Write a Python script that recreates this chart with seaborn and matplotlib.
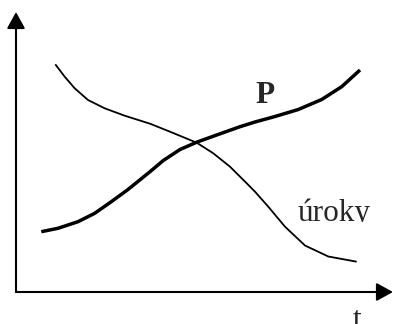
import numpy as np
import pandas as pd
import matplotlib
matplotlib.use("Agg")
import matplotlib.pyplot as plt
import seaborn as sns
from matplotlib.transforms import Bbox, TransformedBbox

# curve values (t along the x axis, level up the y axis)
p_t = [25.3, 42, 62, 78.7, 95.3, 112, 134, 147.3, 164, 180.7, 200.7, 224, 239, 259, 282.3, 305.7, 325.7, 344]
p_val = [60.3, 63.7, 70.3, 78.7, 90.3, 102.5, 120.3, 131.5, 142.5, 149.8, 157, 165.3, 170, 175.5, 182.5, 192.5, 205.3, 222]

urok_t = [39.3, 48.7, 58.7, 72, 88.7, 108.7, 134, 154, 180.7, 197.3, 214, 230.7, 239, 252.3, 269, 289, 312.3, 340.7]
urok_val = [227.7, 215.3, 203.7, 192, 183.7, 176.3, 168.3, 160.3, 149.3, 138.7, 125.3, 108.7, 100.3, 85.3, 65.3, 46.5, 35.5, 30.3]

LABEL_P = "P"
LABEL_UROK = "úroky"
LABEL_T = "t"

df_p = pd.DataFrame({"t": p_t, "val": p_val})
df_u = pd.DataFrame({"t": urok_t, "val": urok_val})

sns.set_style("white")
plt.rcParams["font.family"] = ["Liberation Serif", "DejaVu Serif"]

fig = plt.figure(figsize=(3.93, 3.24), dpi=100)
ax = fig.add_axes([16 / 393, 32 / 324, 377 / 393, 280 / 324])
ax.set_xlim(0, 377)
ax.set_ylim(0, 280)

sns.lineplot(data=df_p, x="t", y="val", ax=ax, color="black", linewidth=2.5,
             sort=False, estimator=None, solid_capstyle="butt", solid_joinstyle="round")
sns.lineplot(data=df_u, x="t", y="val", ax=ax, color="black", linewidth=1.3,
             sort=False, estimator=None, solid_capstyle="butt", solid_joinstyle="round")

# axes with arrow heads
arrow = dict(arrowstyle="-|>,head_length=1.0,head_width=0.55", mutation_scale=10,
             color="black", lw=1.5, shrinkA=0, shrinkB=0)
ax.annotate("", xy=(0, 1), xytext=(0, 0), xycoords="axes fraction", arrowprops=arrow)
ax.annotate("", xy=(1, 0), xytext=(0, 0), xycoords="axes fraction", arrowprops=arrow)

ax.text(249, 189, LABEL_P, fontsize=22.5, fontweight="bold", ha="center", va="baseline")
u = ax.text(282, 71, LABEL_UROK, fontsize=22.5, ha="left", va="baseline")
# the label is cut just under its baseline in the original
u.set_clip_path(None)
u.set_clip_box(TransformedBbox(Bbox([[0, 70], [377, 400]]), ax.transData))
u.set_clip_on(True)
ax.text(341, -36, LABEL_T, fontsize=22.5, ha="center", va="baseline")

ax.set_xlabel("")
ax.set_ylabel("")
ax.set_xticks([])
ax.set_yticks([])
for s in ax.spines.values():
    s.set_visible(False)

fig.savefig("out.png", dpi=100)
